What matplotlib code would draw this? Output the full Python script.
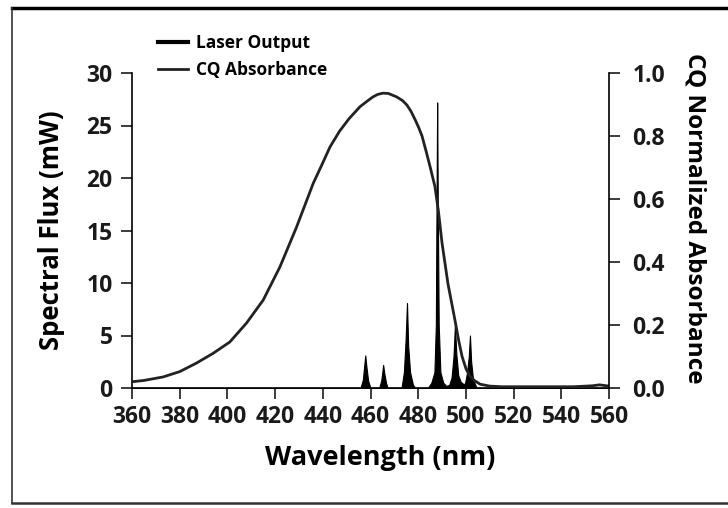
import numpy as np
import matplotlib
matplotlib.use("Agg")
import matplotlib.pyplot as plt
from matplotlib.lines import Line2D

# CQ absorbance curve (normalized, right axis)
abs_wl = [359, 365, 373, 380, 387, 394, 401, 408, 415, 422, 429, 436, 440, 443,
          447, 451, 455.6, 458.5, 461, 463, 465.2, 467.5, 471, 473.5, 475.3,
          477, 478.7, 480.2, 481.6, 483.3, 485, 487, 488.5, 490, 492.5,
          495.4, 497, 498.4, 500, 501.5, 503.5, 506, 510, 515, 530, 545, 553,
          556, 558, 560]
abs_val = [0.019, 0.024, 0.035, 0.052, 0.079, 0.110, 0.146, 0.206, 0.279, 0.384,
           0.511, 0.650, 0.715, 0.765, 0.815, 0.855, 0.893, 0.910, 0.924, 0.932,
           0.936, 0.935, 0.924, 0.912, 0.898, 0.878, 0.852, 0.827, 0.800, 0.752,
           0.702, 0.640, 0.560, 0.460, 0.330, 0.216, 0.150, 0.100, 0.062, 0.040,
           0.024, 0.012, 0.006, 0.004, 0.004, 0.004, 0.007, 0.010, 0.008, 0.006]

# Laser output spectrum (mW)
laser_wl = [360, 455.8, 456.8, 457.4, 457.8, 458.3, 459.0, 460.0,
            463.6, 464.5, 465.0, 465.3, 465.8, 466.5, 467.2,
            473.0, 474.0, 474.7, 475.3, 475.8, 476.6, 477.8, 478.8,
            484.0, 485.5, 486.8, 487.4, 487.75, 487.95, 488.2, 488.6, 489.3, 490.5, 491.8,
            493.0, 494.0, 494.8, 495.4, 496.0, 496.8, 497.8, 498.8,
            499.6, 500.5, 501.2, 501.7, 502.2, 503.0, 504.5, 560]
laser_val = [0, 0, 0.8, 2.2, 3.1, 2.0, 0.7, 0,
             0, 0.7, 1.6, 2.2, 1.4, 0.5, 0,
             0, 1.5, 4.5, 8.1, 4.0, 1.5, 0.3, 0,
             0, 0.5, 1.5, 6.0, 20.0, 27.2, 18.0, 6.0, 1.5, 0.5, 0.2,
             0.3, 1.0, 3.0, 6.0, 3.2, 1.2, 0.6, 0.4,
             0.4, 1.5, 3.0, 5.0, 2.5, 0.8, 0, 0]

flux_ticks = [0, 5, 10, 15, 20, 25, 30]
abs_ticks = [0.0, 0.2, 0.4, 0.6, 0.8, 1.0]
wl_ticks = list(range(360, 561, 20))

plt.rcParams['font.family'] = ['Open Sans', 'DejaVu Sans']
plt.rcParams['font.weight'] = 'bold'

fig = plt.figure(figsize=(7.28, 5.08), dpi=100)
ax = fig.add_axes([132/728, 1-388/508, 477/728, 315/508])
ax2 = ax.twinx()

ax.fill_between(laser_wl, laser_val, 0, color='black', lw=0.8, edgecolor='black')
ax2.plot(abs_wl, abs_val, color='#222222', lw=2)

ax.set_xlim(360, 560)
ax.set_ylim(0, 30)
ax2.set_ylim(0, 1.0)
ax.set_xticks(wl_ticks)
ax.set_yticks(flux_ticks)
ax2.set_yticks(abs_ticks)
ax2.set_yticklabels(['%.1f' % t for t in abs_ticks])

for a in (ax, ax2):
    a.spines['top'].set_visible(False)
    a.tick_params(width=1.2, length=8, labelsize=16.5, pad=6, colors='#1a1a1a')
ax.spines['right'].set_visible(False)
ax2.spines['left'].set_visible(False)
ax2.spines['bottom'].set_visible(False)
for s in ('left', 'bottom'):
    ax.spines[s].set_linewidth(1.2)
ax2.spines['right'].set_linewidth(1.2)
ax.tick_params(axis='x', pad=4)
ax2.tick_params(axis='y', pad=9)

ax.set_xlabel('Wavelength (nm)', fontsize=19.5, fontweight='bold')
ax.set_ylabel('Spectral Flux (mW)', fontsize=18.5, fontweight='bold')
ax2.set_ylabel('CQ Normalized Absorbance', fontsize=17.5, fontweight='bold',
               rotation=-90, va='center')
ax.xaxis.set_label_coords(0.52, -0.18)
ax.yaxis.set_label_coords(-0.14, 0.5)
ax2.yaxis.set_label_coords(1.18, 0.54)

handles = [Line2D([], [], color='black', lw=3), Line2D([], [], color='#222222', lw=2)]
fig.legend(handles, ['Laser Output', 'CQ Absorbance'], loc='upper left',
           bbox_to_anchor=(158/728, 1-34/508), frameon=False, fontsize=12.5,
           handlelength=1.7, handletextpad=0.5, labelspacing=0.5,
           borderpad=0, borderaxespad=0)

# outer frame
fig.add_artist(Line2D([12/728, 1], [1-8/508, 1-8/508], color='black', lw=2.5, transform=fig.transFigure))
fig.add_artist(Line2D([12/728, 12/728], [1-8/508, 1-503/508], color='#333333', lw=1.2, transform=fig.transFigure))
fig.add_artist(Line2D([12/728, 1], [1-503/508, 1-503/508], color='#333333', lw=1.8, transform=fig.transFigure))

fig.savefig('out.png', dpi=100)
